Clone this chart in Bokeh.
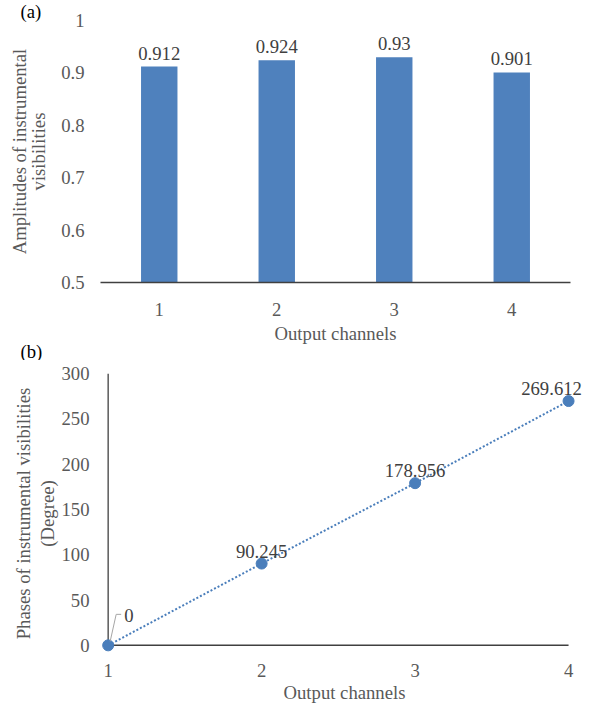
from bokeh.plotting import figure
from bokeh.layouts import column
from bokeh.models import FixedTicker, ColumnDataSource, Title
from bokeh.core.properties import value
from bokeh.embed import file_html
from bokeh.resources import INLINE

# ---------------- data ----------------
channels = [1, 2, 3, 4]
amplitudes = [0.912, 0.924, 0.93, 0.901]
amp_labels = ["0.912", "0.924", "0.93", "0.901"]
amp_ticks = [0.5, 0.6, 0.7, 0.8, 0.9, 1.0]
phases = [0, 90.245, 178.956, 269.612]
phase_labels = ["0", "90.245", "178.956", "269.612"]
phase_ticks = [0, 50, 100, 150, 200, 250, 300]

FONT = "Liberation Serif"
FS = "18.7px"
TICK_C = "#595959"
LAB_C = "#404040"
BAR_C = "#4F81BD"
PT_C = "#4A7EBB"


def style(p):
    p.xgrid.grid_line_color = None
    p.ygrid.grid_line_color = None
    p.outline_line_color = None
    for ax in (p.xaxis[0], p.yaxis[0]):
        ax.major_tick_line_color = None
        ax.minor_tick_line_color = None
        ax.major_label_text_font = FONT
        ax.major_label_text_font_size = FS
        ax.major_label_text_color = TICK_C
        ax.axis_label_text_font = FONT
        ax.axis_label_text_font_size = FS
        ax.axis_label_text_color = TICK_C
        ax.axis_label_text_font_style = "normal"


def panel_title(text, offset, standoff, valign="bottom"):
    return Title(text=text, align="left", offset=offset, standoff=standoff,
                 vertical_align=valign,
                 text_font=FONT, text_font_size=FS, text_font_style="normal",
                 text_color="#000000")


# ---------------- chart (a) ----------------
pa = figure(frame_width=470, frame_height=262,
            min_border_left=100, min_border_right=30,
            min_border_top=20, min_border_bottom=78,
            x_range=(0.5, 4.5), y_range=(amp_ticks[0], amp_ticks[-1]),
            output_backend="svg", toolbar_location=None)
style(pa)
pa.add_layout(panel_title("(a)", -80, -3), "above")
pa.add_layout(panel_title("(b)", -80, -16), "below")
pa.xaxis.ticker = FixedTicker(ticks=channels)
pa.yaxis.ticker = FixedTicker(ticks=amp_ticks)
pa.yaxis.major_label_overrides = {1: "1", 1.0: "1"}
pa.yaxis.axis_line_color = None
pa.xaxis.axis_line_color = "#404040"
pa.xaxis.axis_line_width = 1.5
pa.xaxis.major_label_standoff = 14
pa.yaxis.major_label_standoff = 10
pa.xaxis.axis_label = "Output channels"
pa.xaxis.axis_label_standoff = 4
pa.yaxis.axis_label = "Amplitudes of instrumental\nvisibilities"
pa.yaxis.axis_label_standoff = 9
pa.yaxis.axis_label_text_line_height = 0.92

src_a = ColumnDataSource(dict(x=channels, top=amplitudes, lab=amp_labels))
pa.vbar(x="x", top="top", bottom=amp_ticks[0], width=0.31, source=src_a,
        fill_color=BAR_C, line_color=None)
pa.text(x="x", y="top", text="lab", source=src_a, text_align="center",
        text_baseline="bottom", y_offset=-7, text_font=value(FONT),
        text_font_size=FS, text_color=LAB_C)

# ---------------- chart (b) ----------------
xr_b = (0.95, 4.13)
yr_b = (-9, phase_ticks[-1])
fw_b, fh_b = 488, 280
pb = figure(frame_width=fw_b, frame_height=fh_b,
            min_border_left=97, min_border_right=15,
            min_border_top=13, min_border_bottom=44,
            x_range=xr_b, y_range=yr_b,
            output_backend="svg", toolbar_location=None)
style(pb)
pb.xaxis.ticker = FixedTicker(ticks=channels)
pb.yaxis.ticker = FixedTicker(ticks=phase_ticks)
pb.xaxis.axis_line_color = None
pb.yaxis.axis_line_color = None
pb.xaxis.major_label_standoff = 4
pb.yaxis.major_label_standoff = 5
pb.xaxis.axis_label = "Output channels"
pb.xaxis.axis_label_standoff = 2
pb.yaxis.axis_label = "Phases of instrumental visibilities\n(Degree)"
pb.yaxis.axis_label_standoff = 0
pb.yaxis.axis_label_text_line_height = 1.15

# axis lines at x=1 / y=0
pb.line(x=[channels[0], channels[0]], y=[phase_ticks[0], phase_ticks[-1]],
        line_color="#595959", line_width=1.5)
pb.line(x=[channels[0], channels[-1]], y=[phase_ticks[0], phase_ticks[0]],
        line_color="#404040", line_width=1.5)

pb.line(x=channels, y=phases, line_color=PT_C, line_width=2, line_dash="2 2")
pb.scatter(x=channels, y=phases, size=11, fill_color=PT_C, line_color=PT_C)

src_b = ColumnDataSource(dict(x=channels[1:], y=phases[1:], lab=phase_labels[1:],
                              xo=[0, 0, -17]))
pb.text(x="x", y="y", text="lab", source=src_b, x_offset="xo",
        text_align="center", text_baseline="bottom", y_offset=-6,
        text_font=value(FONT), text_font_size=FS, text_color=LAB_C)

# leader line for the "0" label
ux = (xr_b[1] - xr_b[0]) / fw_b
uy = (yr_b[1] - yr_b[0]) / fh_b
x0, y0 = channels[0], phases[0]
pb.line(x=[x0 + 2 * ux, x0 + 8 * ux, x0 + 13 * ux],
        y=[y0 + 4 * uy, y0 + 31 * uy, y0 + 31 * uy],
        line_color="#A6A6A6", line_width=1)
pb.text(x=[x0], y=[y0], text=[phase_labels[0]], x_offset=16, y_offset=-30,
        text_align="left", text_baseline="middle", text_font=value(FONT),
        text_font_size=FS, text_color=LAB_C)

layout = column(pa, pb, spacing=0)
open("out.html", "w").write(file_html(layout, INLINE))
